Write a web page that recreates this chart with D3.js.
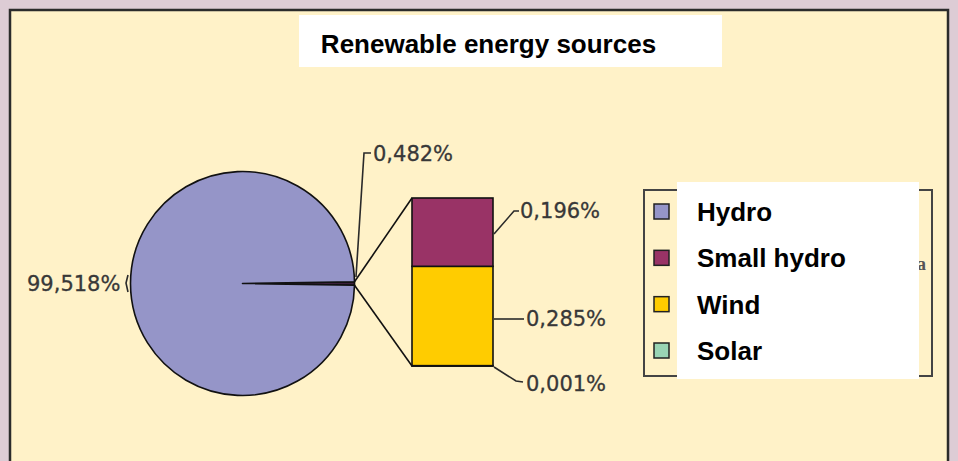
<!DOCTYPE html>
<html><head><meta charset="utf-8">
<script src="https://cdn.jsdelivr.net/npm/d3@7"></script>
<style>
html,body{margin:0;padding:0;background:#ddccd5;}
svg{display:block;}
</style></head>
<body>
<svg id="chart" width="958" height="461"></svg>
<script>
const categories = ["Hydro", "Small hydro", "Wind", "Solar"];
const values = [99.518, 0.196, 0.285, 0.001];
const valueLabels = ["99,518%", "0,196%", "0,285%", "0,001%"];
const otherLabel = "0,482%";
const colors = ["#9595c8", "#993366", "#ffcc00", "#99d4b4"];
const title = "Renewable energy sources";

const svg = d3.select("#chart");
const W = 958, H = 461;

// background panel
svg.append("rect").attr("x", 0).attr("y", 0).attr("width", W).attr("height", H).attr("fill", "#ddccd5");
svg.append("rect").attr("x", 10).attr("y", 10).attr("width", 938).attr("height", 470)
  .attr("fill", "#fff2c8").attr("stroke", "#2b2b2b").attr("stroke-width", 2.5);

// title
svg.append("rect").attr("x", 299).attr("y", 15).attr("width", 423).attr("height", 52).attr("fill", "#ffffff");
svg.append("text").attr("x", 488.5).attr("y", 53).attr("text-anchor", "middle")
  .attr("font-family", "Liberation Sans, Arial, sans-serif").attr("font-weight", "bold")
  .attr("font-size", 26).attr("fill", "#000").text(title);

// pie
const cx = 242.5, cy = 283.5, R = 112;
const otherVal = d3.sum(values.slice(1));
const pieData = [{name: "Other", v: otherVal}, {name: categories[0], v: values[0]}];
const total = d3.sum(pieData, d => d.v);
const half = Math.PI * otherVal / total;
const pie = d3.pie().value(d => d.v).sort(null)
  .startAngle(Math.PI / 2 - half).endAngle(Math.PI / 2 - half + 2 * Math.PI);
const arc = d3.arc().innerRadius(0).outerRadius(R);
const arcs = pie(pieData);
const g = svg.append("g").attr("transform", `translate(${cx},${cy})`);
g.selectAll("path").data(arcs).join("path")
  .attr("d", arc)
  .attr("fill", (d, i) => i === 0 ? "#3a1f3a" : colors[0])
  .attr("stroke", "#111").attr("stroke-width", 1.6).attr("stroke-linejoin", "round");

// bar of pie
const barX0 = 412, barX1 = 493;
const y = d3.scaleLinear().domain([0, otherVal]).range([366, 198]);
// stack from bottom: Solar, Wind, Small hydro
const stackOrder = [3, 2, 1];
let acc = 0;
const segs = stackOrder.map(i => { const s = {i, y0: acc, y1: acc + values[i]}; acc += values[i]; return s; });
svg.selectAll("rect.seg").data(segs).join("rect").attr("class", "seg")
  .attr("x", barX0).attr("width", barX1 - barX0)
  .attr("y", d => y(d.y1)).attr("height", d => Math.max(0.5, y(d.y0) - y(d.y1)))
  .attr("fill", d => colors[d.i]).attr("stroke", "#111").attr("stroke-width", 1.6);

// connector lines
const a0 = arcs[0].startAngle, a1 = arcs[0].endAngle;
const pt = a => [cx + R * Math.sin(a), cy - R * Math.cos(a)];
const pTop = pt(a0), pBot = pt(a1);
svg.append("line").attr("x1", pTop[0]).attr("y1", pTop[1]).attr("x2", barX0).attr("y2", y(otherVal))
  .attr("stroke", "#111").attr("stroke-width", 1.6);
svg.append("line").attr("x1", pBot[0]).attr("y1", pBot[1]).attr("x2", barX0).attr("y2", y(0))
  .attr("stroke", "#111").attr("stroke-width", 1.6);

// data labels
const lblFont = "DejaVu Sans, Verdana, sans-serif";
const lblColor = "#383838";
function label(x, yy, t) {
  svg.append("text").attr("x", x).attr("y", yy).attr("font-family", lblFont).attr("font-size", 21)
    .attr("fill", lblColor).attr("stroke", lblColor).attr("stroke-width", 0.3).text(t);
}
function leader(pts) {
  svg.append("path").attr("d", d3.line()(pts)).attr("fill", "none").attr("stroke", "#2a2a2a").attr("stroke-width", 1.6);
}
// hydro label (left)
label(27, 291, valueLabels[0]);
leader([[128, 275], [126, 283], [128, 292]]);
// other label
label(373, 161, otherLabel);
leader([[371, 153], [364, 153], [356, 277]]);
// small hydro
label(520, 218, valueLabels[1]);
leader([[494, 234], [514, 211], [519, 211]]);
// wind
label(526, 326, valueLabels[2]);
leader([[494, 319], [524, 319]]);
// solar
label(526, 391, valueLabels[3]);
leader([[494, 367], [516, 381], [523, 382]]);

// legend
svg.append("rect").attr("x", 644).attr("y", 190).attr("width", 288).attr("height", 186)
  .attr("fill", "none").attr("stroke", "#444").attr("stroke-width", 2);
svg.append("text").attr("x", 917).attr("y", 270).attr("font-family", "Liberation Serif, serif")
  .attr("font-weight", "bold").attr("font-size", 18).attr("fill", "#555").text("a");
svg.append("rect").attr("x", 677).attr("y", 182).attr("width", 242).attr("height", 197).attr("fill", "#fff");
const ly = d3.scalePoint().domain(categories).range([212, 351]);
const lg = svg.selectAll("g.leg").data(categories).join("g").attr("class", "leg");
lg.append("rect").attr("x", 654).attr("y", d => ly(d) - 8).attr("width", 15).attr("height", 15)
  .attr("fill", (d, i) => colors[i]).attr("stroke", "#222").attr("stroke-width", 1.5);
lg.append("text").attr("x", 697).attr("y", d => ly(d) + 9)
  .attr("font-family", "Liberation Sans, Arial, sans-serif").attr("font-weight", "bold")
  .attr("font-size", 26).attr("fill", "#000").text(d => d);
</script>
</body></html>
